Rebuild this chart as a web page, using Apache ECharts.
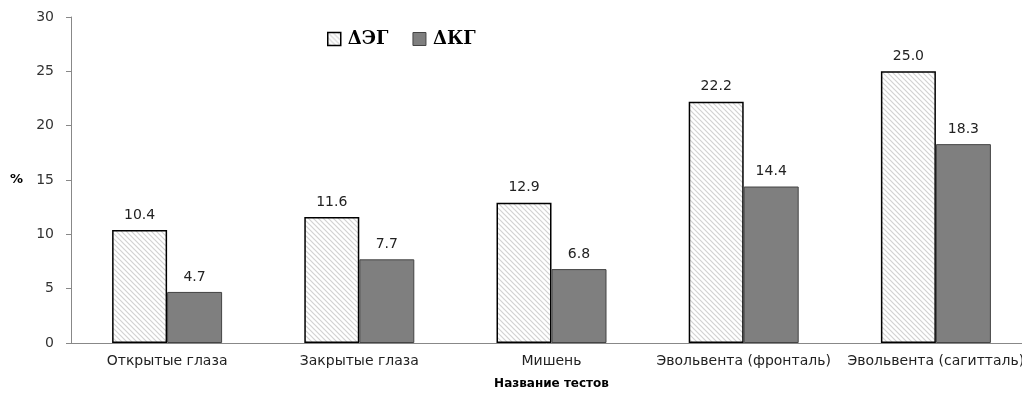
<!DOCTYPE html>
<html>
<head>
<meta charset="utf-8">
<script src="https://cdn.jsdelivr.net/npm/echarts@6/dist/echarts.min.js"></script>
<style>
html,body{margin:0;padding:0;background:#fff;}
#main{width:1022px;height:394px;}
</style>
</head>
<body>
<div id="main"></div>
<script>
var categories = ['Открытые глаза', 'Закрытые глаза', 'Мишень', 'Эвольвента (фронталь)', 'Эвольвента (сагитталь)'];
var dEG = [10.4, 11.6, 12.9, 22.2, 25.0];//ΔЭГ
var dKG = [4.7, 7.7, 6.8, 14.4, 18.3];//ΔКГ
var yTicks = [0, 5, 10, 15, 20, 25, 30];

// штриховка для первой серии
function hatch() {
    var c = document.createElement('canvas');
    c.width = 5; c.height = 5;
    var ctx = c.getContext('2d');
    ctx.fillStyle = '#fff';
    ctx.fillRect(0, 0, 5, 5);
    ctx.strokeStyle = '#d2d2d2';
    ctx.lineWidth = 1.2;
    ctx.beginPath();
    ctx.moveTo(0, 0); ctx.lineTo(5, 5);
    ctx.moveTo(-3, 2); ctx.lineTo(3, 8);
    ctx.moveTo(2, -3); ctx.lineTo(8, 3);
    ctx.stroke();
    return c;
}
var hatchImg = hatch();

var myChart = echarts.init(document.getElementById('main'));
var option = {
    animation: false,
    legend: {
        left: 322,
        top: 25,
        icon: 'rect',
        itemWidth: 13,
        itemHeight: 13,
        itemGap: 24,
        textStyle: {
            fontFamily: 'DejaVu Serif',
            fontWeight: 'bold',
            fontSize: 18,
            color: '#000',
            padding: [0, 0, 0, 2]
        },
        data: [
            {name: 'ΔЭГ', itemStyle: {color: {image: hatchImg, repeat: 'repeat'}, borderColor: '#000', borderWidth: 1.5}},
            {name: 'ΔКГ', itemStyle: {color: '#7f7f7f', borderColor: '#444', borderWidth: 1}}
        ]
    },
    grid: {
        left: 71,
        top: 17,
        width: 961,
        height: 326,
        outerBoundsMode: 'none'
    },
    xAxis: {
        type: 'category',
        data: categories,
        name: 'Название тестов',
        nameLocation: 'middle',
        nameGap: 35,
        nameTextStyle: {
            fontFamily: 'DejaVu Sans',
            fontWeight: 'bold',
            fontSize: 12,
            color: '#000'
        },
        axisLine: {lineStyle: {color: '#888'}},
        axisTick: {lineStyle: {color: '#888'}, length: 5},
        axisLabel: {
            fontFamily: 'DejaVu Sans',
            fontSize: 14,
            color: '#222',
            margin: 11,
            interval: 0
        }
    },
    yAxis: {
        type: 'value',
        min: yTicks[0],
        max: yTicks[yTicks.length - 1],
        interval: 5,
        name: '%',
        nameLocation: 'middle',
        nameRotate: 0,
        nameGap: 48,
        nameTextStyle: {
            fontFamily: 'DejaVu Sans',
            fontWeight: 'bold',
            fontSize: 13,
            color: '#000'
        },
        axisLine: {show: true, lineStyle: {color: '#888'}},
        axisTick: {show: true, lineStyle: {color: '#888'}, length: 5},
        splitLine: {show: false},
        axisLabel: {
            fontFamily: 'DejaVu Sans',
            fontSize: 14,
            color: '#333',
            margin: 17
        }
    },
    series: [
        {
            name: 'ΔЭГ',
            type: 'bar',
            data: dEG,
            barWidth: 55,
            barGap: '0%',
            itemStyle: {
                color: {image: hatchImg, repeat: 'repeat'},
                borderColor: '#000',
                borderWidth: 1.5
            },
            label: {
                show: true,
                position: 'top',
                distance: 8,
                formatter: function (p) { return p.value.toFixed(1); },
                fontFamily: 'DejaVu Sans',
                fontSize: 14,
                color: '#222'
            }
        },
        {
            name: 'ΔКГ',
            type: 'bar',
            data: dKG,
            barWidth: 55,
            itemStyle: {
                color: '#7f7f7f',
                borderColor: '#444',
                borderWidth: 1
            },
            label: {
                show: true,
                position: 'top',
                distance: 8,
                formatter: function (p) { return p.value.toFixed(1); },
                fontFamily: 'DejaVu Sans',
                fontSize: 14,
                color: '#222'
            }
        }
    ]
};
myChart.setOption(option);
</script>
</body>
</html>
